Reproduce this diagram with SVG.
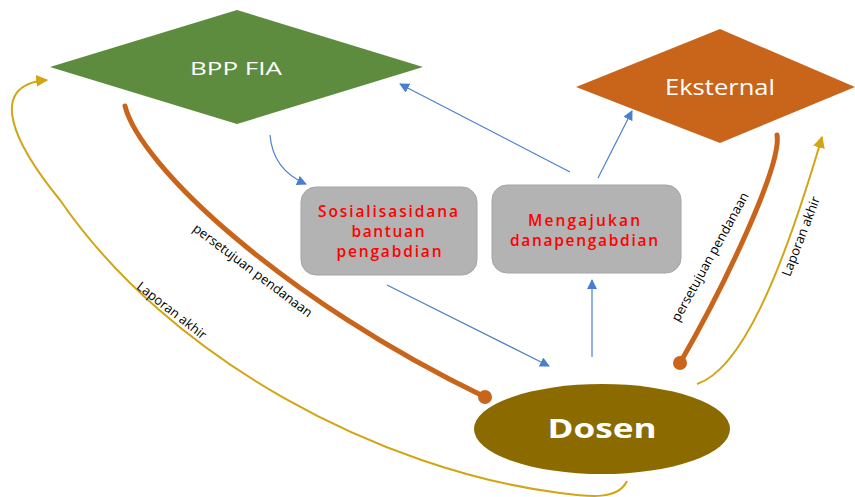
<svg xmlns="http://www.w3.org/2000/svg" width="855" height="497" viewBox="0 0 855 497">
  <style>
    .node-label { font-family: "Open Sans", "Liberation Sans", sans-serif; fill: #ffffff; text-anchor: middle; }
    .box { fill: #b3b3b3; stroke: #a5a5a5; stroke-width: 1; }
    .box-text { font-family: "Open Sans", "Liberation Sans", sans-serif; font-size: 15.5px; font-weight: 600; fill: #ff0000; text-anchor: middle; }
    .flow { fill: none; stroke: #4a7fd0; stroke-width: 1.2; }
    .fund { fill: none; stroke: #c9651b; stroke-width: 5; stroke-linecap: round; }
    .report { fill: none; stroke: #d2a514; stroke-width: 2; }
    .edge-label { font-family: "Open Sans", "Liberation Sans", sans-serif; font-size: 13px; fill: #000000; text-anchor: middle; }
  </style>
  <defs>
    <marker id="blueArrow" viewBox="0 0 10 10" refX="9" refY="5" markerWidth="10" markerHeight="10" markerUnits="userSpaceOnUse" orient="auto">
      <path d="M0,0 L10,5 L0,10 z" fill="#4a7fd0"/>
    </marker>
    <marker id="goldArrow" viewBox="0 0 10 10" refX="9" refY="5" markerWidth="12" markerHeight="12" markerUnits="userSpaceOnUse" orient="auto">
      <path d="M0,0 L10,5 L0,10 z" fill="#d2a514"/>
    </marker>
  </defs>

  <rect width="855" height="497" fill="#ffffff"/>

  <!-- connectors -->
  <g id="connectors">
    <!-- funding approval lines (orange, dot at the lecturer end) -->
    <path class="fund" d="M125,106 C140,166 285,301 485,397"/>
    <circle cx="485" cy="397" r="7" fill="#c9651b"/>
    <path class="fund" d="M777,135 C782,165 725,285 680,363"/>
    <circle cx="680" cy="363" r="7" fill="#c9651b"/>

    <!-- final report lines (gold) -->
    <path class="report" d="M697,384 C740,370 780,280 822,137" marker-end="url(#goldArrow)"/>
    <path class="report" d="M627,481 C618,500 590,497 560,493 C380,470 170,360 60,200 C15,145 -15,85 47,80" marker-end="url(#goldArrow)"/>

    <!-- process flow (blue) -->
    <path class="flow" d="M270,135 C272,160 285,175 306,184" marker-end="url(#blueArrow)"/>
    <path class="flow" d="M570,172 L400,84" marker-end="url(#blueArrow)"/>
    <path class="flow" d="M598,178 L632,111" marker-end="url(#blueArrow)"/>
    <path class="flow" d="M387,285 L549,366" marker-end="url(#blueArrow)"/>
    <path class="flow" d="M592,357 L592,280" marker-end="url(#blueArrow)"/>

    <!-- edge labels -->
    <text class="edge-label" transform="translate(250,274) rotate(37)">persetujuan pendanaan</text>
    <text class="edge-label" transform="translate(169,314) rotate(38)" font-size="13.5">Laporan akhir</text>
    <text class="edge-label" transform="translate(714,259) rotate(-61)">persetujuan pendanaan</text>
    <text class="edge-label" transform="translate(805,238) rotate(-69)">Laporan akhir</text>
  </g>

  <!-- nodes -->
  <g id="bpp-fia">
    <polygon points="50,67 237,10 423,67 237,124" fill="#5e8c3e"/>
    <text class="node-label" x="236" y="75" font-size="19" textLength="92" lengthAdjust="spacingAndGlyphs">BPP FIA</text>
  </g>

  <g id="eksternal">
    <polygon points="576,87 720,29 855,87 720,143" fill="#c9651b"/>
    <text class="node-label" x="720" y="95" font-size="21" textLength="110" lengthAdjust="spacingAndGlyphs">Eksternal</text>
  </g>

  <g id="sosialisasi">
    <rect class="box" x="301" y="187" width="176" height="88" rx="15" ry="15"/>
    <text class="box-text" x="388" y="217" textLength="140">Sosialisasidana</text>
    <text class="box-text" x="388" y="237" textLength="73">bantuan</text>
    <text class="box-text" x="389" y="257" textLength="105">pengabdian</text>
  </g>

  <g id="mengajukan">
    <rect class="box" x="492" y="185" width="189" height="88" rx="15" ry="15"/>
    <text class="box-text" x="584" y="226" textLength="112">Mengajukan</text>
    <text class="box-text" x="584" y="246" textLength="148">danapengabdian</text>
  </g>

  <g id="dosen">
    <ellipse cx="602" cy="429" rx="128" ry="45" fill="#8b6a00"/>
    <text class="node-label" x="602" y="438" font-size="26" font-weight="bold" textLength="109" lengthAdjust="spacingAndGlyphs">Dosen</text>
  </g>
</svg>
